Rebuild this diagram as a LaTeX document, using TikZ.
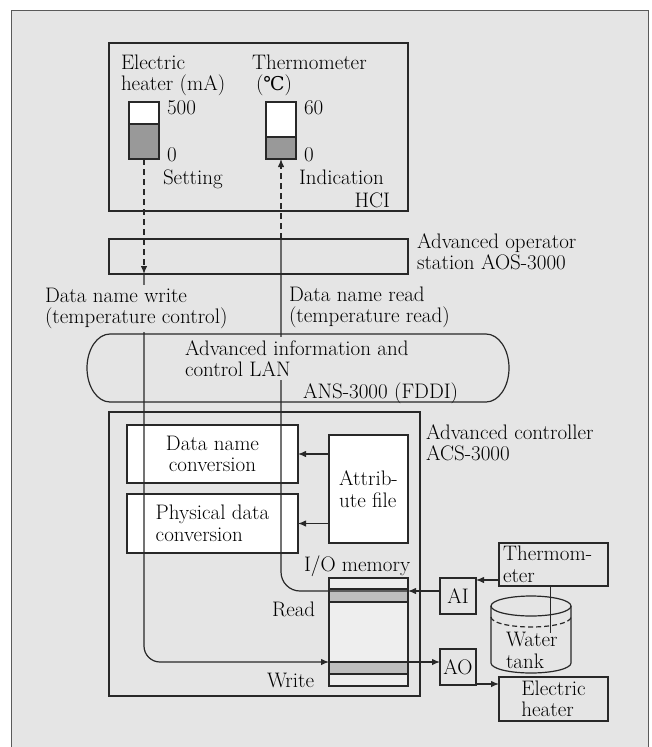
\documentclass[tikz,border=0pt]{standalone}
\usepackage{fontspec}
\usepackage{tikz}
\usepackage{xcolor}
\usetikzlibrary{positioning, arrows.meta}
\newfontfamily\symfont{DejaVu Serif}
\definecolor{bggray}{RGB}{229,229,229}
\definecolor{linec}{RGB}{40,40,40}
\definecolor{framec}{RGB}{90,90,90}
\definecolor{barfill}{RGB}{153,153,153}
\definecolor{bandfill}{RGB}{190,190,190}
\definecolor{memfill}{RGB}{238,238,238}

\begin{document}
\begin{tikzpicture}[
            x=1pt, y=-1pt,
            font=\fontsize{21}{21.5}\selectfont,
            every node/.style={inner sep=0pt, outer sep=0pt},
            panel/.style={draw=linec, line width=1.2pt, anchor=north west},
            whitebox/.style={panel, fill=white},
            iobox/.style={panel, minimum width=36pt, minimum height=36pt},
            txt/.style={anchor=base west, align=left},
            cut/.style={txt, fill=bggray, inner xsep=2pt, inner ysep=3pt},
            wire/.style={draw=linec, line width=1.2pt},
            dashwire/.style={wire, dash pattern=on 6pt off 4pt},
            arr/.style={wire, -{Latex[length=8pt,width=6.5pt]}},
        ]
            \useasboundingbox (0,0) rectangle (652,747);
            \fill[bggray] (11,10) rectangle (648,747);
            \draw[line width=0.8pt, framec] (11,747) -- (11,10) -- (648,10) -- (648,747);

            \node[panel, minimum width=299pt, minimum height=168pt] (hci) at (109,43) {};
            \node[whitebox, minimum width=30pt, minimum height=57pt] (hbar) at (129,102) {};
            \draw[wire, fill=barfill] (129,124) rectangle (159,159);
            \node[whitebox, minimum width=30pt, minimum height=57pt] (tbar) at (266,102) {};
            \draw[wire, fill=barfill] (266,137) rectangle (296,159);
            \node[txt] (hlabel) at (121,90.5) {Electric\\heater (mA)};
            \node[txt] (tlabel) at (252,90.5) {Thermometer\\\hspace*{4pt}({\symfont\fontsize{19}{21.5}\selectfont ℃})};
            \node[txt] (hmax) at (167,114) {500};
            \node[txt] (hmin) at (167,161) {0};
            \node[txt] (tmax) at (304,114) {60};
            \node[txt] (tmin) at (304,161) {0};
            \node[txt] (setting) at (163,184) {Setting};
            \node[txt] (indication) at (299,184) {Indication};
            \node[anchor=base east] (hcilabel) at (390,207) {HCI};

            \node[panel, minimum width=299pt, minimum height=35pt] (aos) at (109,239) {};
            \node[txt] (aoslabel) at (417,269.5) {Advanced operator\\station AOS-3000};

            \draw[wire] (110,334) -- (486,334)
                arc[start angle=90, end angle=-90, x radius=23pt, y radius=34pt]
                -- (110,402)
                arc[start angle=270, end angle=90, x radius=23pt, y radius=34pt] -- cycle;
            \node[txt] (fddi) at (303,398) {ANS-3000 (FDDI)};

            \node[panel, minimum width=311pt, minimum height=284pt] (acs) at (109,412) {};
            \node[txt] (acslabel) at (426,460.5) {Advanced controller\\ACS-3000};
            \node[whitebox, minimum width=171pt, minimum height=58pt, align=center] (dnc) at (127,425) {Data name\\conversion};
            \node[whitebox, minimum width=171pt, minimum height=59pt, align=left] (pdc) at (127,494) {Physical data\\conversion};
            \node[whitebox, minimum width=79pt, minimum height=108pt, align=left] (attr) at (329,435) {Attrib-\\ute file};
            \node[panel, fill=memfill, minimum width=79pt, minimum height=108pt] (mem) at (329,578) {};
            \draw[wire, fill=bandfill] (329,589) rectangle (408,602);
            \draw[wire, fill=bandfill] (329,662) rectangle (408,674);
            \node[txt] (iolabel) at (304,571) {I/O memory};
            \node[txt] (readlabel) at (272,616) {Read};
            \node[txt] (writelabel) at (267,687) {Write};

            \node[iobox] (ai) at (440,578) {AI};
            \node[iobox, below=35pt of ai.south west, anchor=north west] (ao) {AO};
            \node[panel, minimum width=109pt, minimum height=43pt, text width=101pt, inner xsep=4pt, align=left] (thermo) at (499,543) {Thermom-\\eter};
            \node[panel, minimum width=109pt, minimum height=44pt, align=left] (heater) at (499,677) {Electric\\heater};

            \draw[wire] (531,606) ellipse[x radius=40pt, y radius=10pt];
            \draw[wire] (491,606) -- (491,663)
                arc[start angle=180, end angle=360, x radius=40pt, y radius=10pt] -- (571,606);
            \draw[wire, dash pattern=on 5pt off 3pt] (491,617)
                arc[start angle=180, end angle=360, x radius=40pt, y radius=10pt];
            \node[txt] (tank) at (506,668) {Water\\tank};
            \draw[wire] ([xshift=-3pt]thermo.south) -- ++(0,47);

            \coordinate (wr) at (329,662);
            \coordinate (rd) at (408,591);
            \coordinate (tin) at (499,580);
            \coordinate (hin) at (476,684);

            \draw[dashwire, arr] (hbar.south) -- (hbar.south |- aos.south);
            \draw[arr, rounded corners=16pt] (hbar.south |- aos.south) -- (hbar.south |- wr) -- (wr);
            \draw[arr] (wr) -- (ao.west |- wr);
            \draw[arr] (ai.west |- rd) -- (rd);
            \draw[wire, rounded corners=19pt] (rd) -- (tbar.south |- rd) -- (tbar.south |- aos.north);
            \draw[dashwire, arr] (tbar.south |- aos.north) -- (tbar.south);
            \draw[arr] (attr.west |- dnc) -- (dnc.east);
            \draw[arr] (attr.west |- pdc) -- (pdc.east);
            \draw[arr] (tin) -- (ai.east |- tin);
            \draw[arr] (hin) -- (heater.west |- hin);

            \node[cut] (writename) at (43,323.5) {Data name write\\(temperature control)};
            \node[txt] (readname) at (289,322.5) {Data name read\\(temperature read)};
            \node[cut] (lanlabel) at (183,376.5) {Advanced information and\\control LAN};
        \end{tikzpicture}
\end{document}
